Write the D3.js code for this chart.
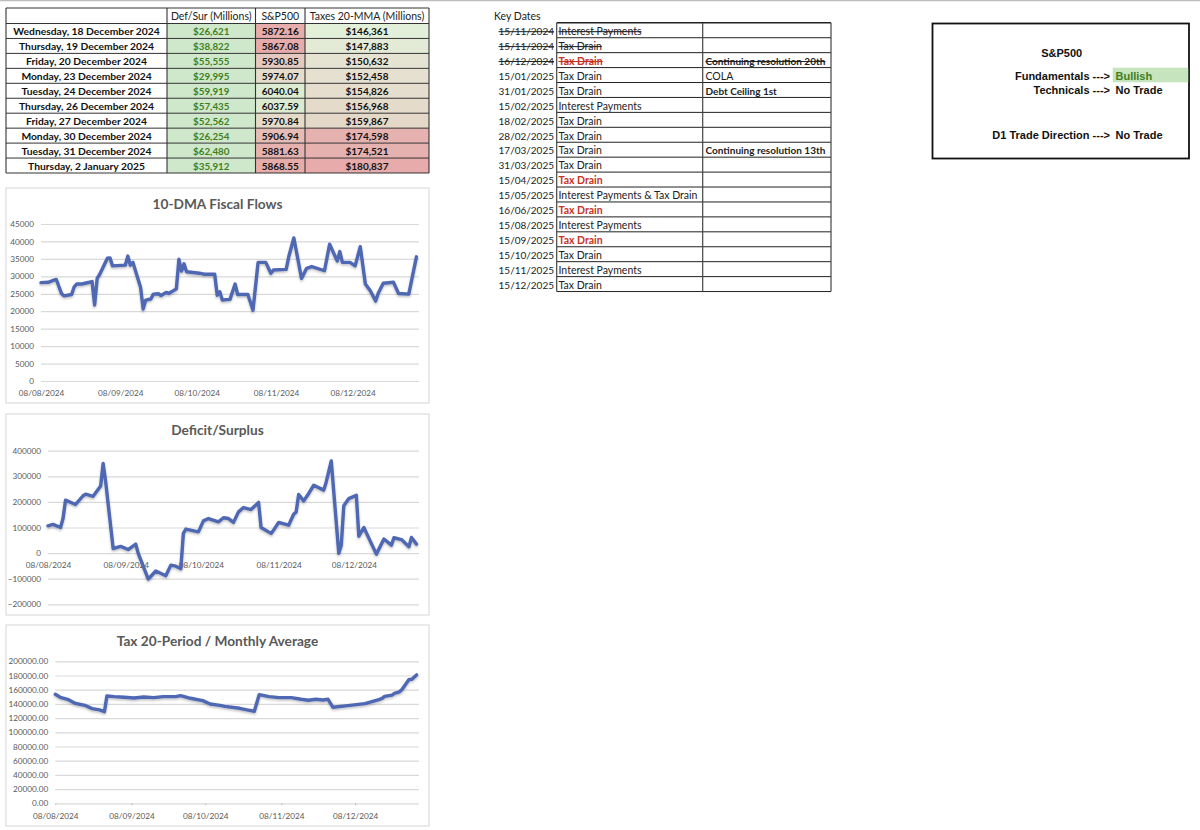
<!DOCTYPE html>
<html>
<head>
<meta charset="utf-8">
<script src="https://cdnjs.cloudflare.com/ajax/libs/d3/7.8.5/d3.min.js"></script>
<style>
html, body { margin: 0; padding: 0; background: #fff; }
svg { display: block; }
text { font-family: Lato, sans-serif; fill: #111; }
.axis text { fill: #595959; font-size: 8.2px; font-family: Lato, sans-serif; }
.axis .domain { display: none; }
.grid line { stroke: #d9d9d9; stroke-width: 1.2; }
.title { font-size: 13.7px; font-weight: 700; fill: #595959; text-anchor: middle; }
.side text { font-family: "Liberation Sans", sans-serif; font-weight: 700; font-size: 11px; }
</style>
</head>
<body>
<svg id="chart" width="1200" height="830"></svg>
<script>
// top left table
var rowDates = ["Wednesday, 18 December 2024","Thursday, 19 December 2024","Friday, 20 December 2024","Monday, 23 December 2024","Tuesday, 24 December 2024","Thursday, 26 December 2024","Friday, 27 December 2024","Monday, 30 December 2024","Tuesday, 31 December 2024","Thursday, 2 January 2025"]
var defSur = [26621,38822,55555,29995,59919,57435,52562,26254,62480,35912]
var spx = [5872.16,5867.08,5930.85,5974.07,6040.04,6037.59,5970.84,5906.94,5881.63,5868.55]
var taxes = [146361,147883,150632,152458,154826,156968,159867,174598,174521,180837]
var tableHeaders = ["", "Def/Sur (Millions)", "S&P500", "Taxes 20-MMA (Millions)"]

// key dates table
var keyDates = ["15/11/2024","15/11/2024","16/12/2024","15/01/2025","31/01/2025","15/02/2025","18/02/2025","28/02/2025","17/03/2025","31/03/2025","15/04/2025","15/05/2025","16/06/2025","15/08/2025","15/09/2025","15/10/2025","15/11/2025","15/12/2025"]
var keyEvents = ["Interest Payments","Tax Drain","Tax Drain","Tax Drain","Tax Drain","Interest Payments","Tax Drain","Tax Drain","Tax Drain","Tax Drain","Tax Drain","Interest Payments & Tax Drain","Tax Drain","Interest Payments","Tax Drain","Tax Drain","Interest Payments","Tax Drain"]
var keyNotes = ["","","Continuing resolution 20th","COLA","Debt Ceiling 1st","","","","Continuing resolution 13th","","","","","","","","",""]
var keyStruck = [0,1,2]
var keyRed = [2,10,12,14]
var keyBoldNotes = [2,4,8]

// line charts
var flowDates = ["2024-08-08","2024-08-11","2024-08-13","2024-08-14","2024-08-16","2024-08-17","2024-08-20","2024-08-21","2024-08-22","2024-08-24","2024-08-27","2024-08-28","2024-08-29","2024-08-30","2024-08-31","2024-09-03","2024-09-04","2024-09-05","2024-09-10","2024-09-11","2024-09-12","2024-09-13","2024-09-16","2024-09-17","2024-09-18","2024-09-20","2024-09-21","2024-09-23","2024-09-24","2024-09-26","2024-09-27","2024-09-30","2024-10-01","2024-10-02","2024-10-03","2024-10-04","2024-10-09","2024-10-11","2024-10-15","2024-10-16","2024-10-17","2024-10-18","2024-10-21","2024-10-23","2024-10-24","2024-10-28","2024-10-30","2024-11-01","2024-11-04","2024-11-06","2024-11-07","2024-11-12","2024-11-13","2024-11-15","2024-11-18","2024-11-20","2024-11-22","2024-11-27","2024-11-29","2024-12-02","2024-12-03","2024-12-04","2024-12-07","2024-12-09","2024-12-11","2024-12-13","2024-12-15","2024-12-17","2024-12-18","2024-12-20","2024-12-24","2024-12-26","2024-12-30","2025-01-02"]
var flowValues = [28200,28300,28900,29100,25100,24400,24800,27000,27800,27800,28300,28500,21800,29400,30600,35200,35300,33000,33200,35800,33200,34000,26800,20600,23200,23500,24900,25000,24500,25400,25100,26400,34900,31500,33600,31300,30900,30600,30600,24600,25600,23200,23400,27800,24800,24800,20300,34000,34000,30900,31800,32000,35600,41000,29400,32300,32800,31600,39200,34400,37100,34000,34000,33000,38500,27800,25800,22900,25100,28000,28300,25100,24900,35600]

var deficitDates = ["2024-08-08","2024-08-10","2024-08-13","2024-08-14","2024-08-15","2024-08-19","2024-08-22","2024-08-23","2024-08-26","2024-08-29","2024-08-30","2024-08-31","2024-09-03","2024-09-06","2024-09-09","2024-09-12","2024-09-13","2024-09-17","2024-09-20","2024-09-24","2024-09-26","2024-09-28","2024-09-30","2024-10-01","2024-10-02","2024-10-07","2024-10-09","2024-10-11","2024-10-15","2024-10-17","2024-10-19","2024-10-21","2024-10-23","2024-10-25","2024-10-28","2024-10-31","2024-11-01","2024-11-05","2024-11-06","2024-11-08","2024-11-12","2024-11-14","2024-11-15","2024-11-16","2024-11-18","2024-11-20","2024-11-22","2024-11-26","2024-11-27","2024-11-29","2024-12-02","2024-12-03","2024-12-04","2024-12-06","2024-12-09","2024-12-10","2024-12-12","2024-12-17","2024-12-20","2024-12-23","2024-12-24","2024-12-27","2024-12-30","2024-12-31","2025-01-02"]
var deficitValues = [106700,112000,100000,135000,207000,190000,224000,230000,222000,262000,350000,279000,18000,26000,14000,35000,-1000,-101500,-70000,-88500,-47000,-51000,-61000,77000,94000,83000,126000,135000,122000,138000,135000,120000,161000,178000,170000,198000,100000,77000,90000,120000,109000,152000,161000,229000,204000,233000,265000,246000,278000,360000,-1000,31000,185000,213000,226000,66000,100000,-4000,55000,31000,60000,53000,25000,61000,35000]

var taxDates = ["2024-08-08","2024-08-10","2024-08-13","2024-08-16","2024-08-20","2024-08-23","2024-08-26","2024-08-28","2024-08-29","2024-09-01","2024-09-05","2024-09-09","2024-09-13","2024-09-17","2024-09-21","2024-09-26","2024-09-28","2024-10-02","2024-10-07","2024-10-10","2024-10-14","2024-10-16","2024-10-22","2024-10-25","2024-10-28","2024-10-30","2024-11-03","2024-11-07","2024-11-12","2024-11-16","2024-11-19","2024-11-22","2024-11-25","2024-11-27","2024-11-29","2024-12-05","2024-12-12","2024-12-18","2024-12-19","2024-12-20","2024-12-23","2024-12-24","2024-12-26","2024-12-27","2024-12-30","2024-12-31","2025-01-02"]
var taxValues = [153500,149300,146500,140900,138000,133300,131500,129100,151200,150200,149300,148400,149800,148800,150200,150200,151700,147900,144600,139900,138000,136600,133800,131500,129600,153100,150200,148800,148800,146500,145100,146500,145500,146500,135200,137600,140400,146361,147883,150632,152458,154826,156968,159867,174598,174521,180837]

var monthTicks = ["2024-08-08","2024-09-08","2024-10-08","2024-11-08","2024-12-08"]
var flowTicks = [0,5000,10000,15000,20000,25000,30000,35000,40000,45000]
var deficitTicks = [-200000,-100000,0,100000,200000,300000,400000]
var taxTicks = [0,20000,40000,60000,80000,100000,120000,140000,160000,180000,200000]

var parseDay = d3.timeParse("%Y-%m-%d")
var formatDay = d3.timeFormat("%d/%m/%Y")
var money = d3.format("$,")
var svg = d3.select("#chart")

// grey strip along the very top of the screenshot
svg.append("line").attr("x1", 0).attr("x2", 1200).attr("y1", 0.5).attr("y2", 0.5)
  .attr("stroke", "#bdbdbd").attr("stroke-width", 1.5)

var defs = svg.append("defs")
var shadow = defs.append("filter").attr("id", "soft").attr("x", "-5%").attr("y", "-10%").attr("width", "110%").attr("height", "120%")
shadow.append("feDropShadow").attr("dx", 0).attr("dy", 1.5).attr("stdDeviation", 1).attr("flood-color", "#000").attr("flood-opacity", 0.25)

// ---- top left table ----
var colX = [6, 167, 255.5, 305, 429]
var headTop = 8, headBottom = 23.5, rowH = 14.95
var rowY = d3.scaleLinear().domain([0, 10]).range([headBottom, headBottom + rowH * 10])

var spxColor = d3.scaleLinear().domain([5867, 5974, 6040]).range(["#e6abaa", "#e5dccb", "#dcebd2"])
var taxColor = d3.scaleLinear().domain([146361, 152000, 160000, 172000, 180837]).range(["#e2efd9", "#e6e0d0", "#e4d8c8", "#e6b5b2", "#e6abaa"])

var rows = d3.range(rowDates.length)
var t1 = svg.append("g")

t1.selectAll(".def").data(rows).enter().append("rect")
  .attr("x", colX[1]).attr("width", colX[2] - colX[1])
  .attr("y", i => rowY(i)).attr("height", rowH).attr("fill", "#cfe8cc")
t1.selectAll(".spx").data(rows).enter().append("rect")
  .attr("x", colX[2]).attr("width", colX[3] - colX[2])
  .attr("y", i => rowY(i)).attr("height", rowH).attr("fill", i => spxColor(spx[i]))
t1.selectAll(".tax").data(rows).enter().append("rect")
  .attr("x", colX[3]).attr("width", colX[4] - colX[3])
  .attr("y", i => rowY(i)).attr("height", rowH).attr("fill", i => taxColor(taxes[i]))

function cellText(g, x, y, str, opts) {
  opts = opts || {}
  return g.append("text").attr("x", x).attr("y", y).attr("text-anchor", opts.anchor || "middle")
    .style("font-size", (opts.size || 11) + "px")
    .style("font-weight", opts.bold ? 700 : 400)
    .style("fill", opts.color || "#111")
    .style("text-decoration", opts.strike ? "line-through" : "none")
    .text(str)
}

tableHeaders.forEach(function(h, i) {
  cellText(t1, (colX[i] + colX[i + 1]) / 2, headBottom - 3.5, h, {size: 10.5, color: "#222"})
})
rows.forEach(function(i) {
  var y = rowY(i) + 11.8
  cellText(t1, (colX[0] + colX[1]) / 2, y, rowDates[i], {bold: true, size: 10.3})
  cellText(t1, (colX[1] + colX[2]) / 2, y, money(defSur[i]), {bold: true, size: 9.8, color: "#3f7f20"})
  cellText(t1, (colX[2] + colX[3]) / 2, y, spx[i].toFixed(2), {bold: true, size: 10})
  cellText(t1, (colX[3] + colX[4]) / 2, y, money(taxes[i]), {bold: true, size: 10})
})

// table rules
d3.range(11).forEach(function(i) {
  t1.append("line").attr("x1", colX[0]).attr("x2", colX[4]).attr("y1", rowY(i)).attr("y2", rowY(i))
    .attr("stroke", "#333").attr("stroke-width", 1)
})
colX.forEach(function(x) {
  t1.append("line").attr("x1", x).attr("x2", x).attr("y1", headTop).attr("y2", rowY(10))
    .attr("stroke", "#333").attr("stroke-width", 1.1)
})
t1.append("line").attr("x1", colX[0]).attr("x2", colX[4]).attr("y1", headTop).attr("y2", headTop)
  .attr("stroke", "#333").attr("stroke-width", 1.1)

// ---- line charts ----
var panels = [
  {title: "10-DMA Fiscal Flows", dates: flowDates, values: flowValues, ticks: flowTicks, frame: [188, 403], titleY: 209,
   x0: 41, yTop: 224, yBottom: 381, labelGap: 6, tickLen: 0, fmt: d3.format("d")},
  {title: "Deficit/Surplus", dates: deficitDates, values: deficitValues, ticks: deficitTicks, frame: [414, 615], titleY: 435,
   x0: 48, yTop: 450.7, yBottom: 604.3, labelGap: 6, tickLen: 0, fmt: d3.format("d")},
  {title: "Tax 20-Period / Monthly Average", dates: taxDates, values: taxValues, ticks: taxTicks, frame: [625, 826], titleY: 646,
   x0: 55.3, yTop: 661.3, yBottom: 803.3, labelGap: 7, tickLen: 2, fmt: d => d.toFixed(2)}
]

panels.forEach(function(p) {
  var g = svg.append("g")
  g.append("rect").attr("x", 6).attr("y", p.frame[0]).attr("width", 423).attr("height", p.frame[1] - p.frame[0])
    .attr("fill", "#fff").attr("stroke", "#dcdcdc").attr("stroke-width", 1.2)
  g.append("text").attr("class", "title").attr("x", 217.5).attr("y", p.titleY).text(p.title)

  var x = d3.scaleTime().domain([parseDay("2024-08-08"), parseDay("2025-01-03")]).range([p.x0, 419])
  var y = d3.scaleLinear().domain(d3.extent(p.ticks)).range([p.yBottom, p.yTop])

  g.append("g").attr("class", "axis grid").attr("transform", "translate(" + p.x0 + ",0)")
    .call(d3.axisLeft(y).tickValues(p.ticks).tickFormat(p.fmt).tickSize(p.x0 - 419).tickPadding(7))

  g.append("g").attr("class", "axis").attr("transform", "translate(0," + y(0) + ")")
    .call(d3.axisBottom(x).tickValues(monthTicks.map(parseDay)).tickFormat(formatDay).tickSize(p.tickLen).tickPadding(p.labelGap - p.tickLen + 3))
    .selectAll(".tick line").attr("stroke", "#bfbfbf")

  var line = d3.line().x(d => x(parseDay(d[0]))).y(d => y(d[1])).curve(d3.curveLinear)
  g.append("path").datum(d3.zip(p.dates, p.values)).attr("d", line)
    .attr("fill", "none").attr("stroke", "#4f67b3").attr("stroke-width", 3.4)
    .attr("stroke-linejoin", "round").attr("stroke-linecap", "round").attr("filter", "url(#soft)")
})

// ---- key dates table ----
var keyCols = [556.7, 702.7, 831]
var keyTop = 22.8, keyRowH = 14.93
var keyY = d3.scaleLinear().domain([0, 18]).range([keyTop, keyTop + keyRowH * 18])
var t2 = svg.append("g")
cellText(t2, 494, 20, "Key Dates", {anchor: "start", size: 10.5, color: "#222"})

keyDates.forEach(function(d, i) {
  var struck = keyStruck.indexOf(i) >= 0
  var red = keyRed.indexOf(i) >= 0
  var y = keyY(i) + 12.2
  cellText(t2, 554, y, d, {anchor: "end", size: 10, color: "#222", strike: struck})
  cellText(t2, 558.5, y, keyEvents[i], {anchor: "start", size: 10.5, bold: red, color: red ? "#c8321e" : "#222", strike: struck})
  if (keyNotes[i]) {
    var bold = keyBoldNotes.indexOf(i) >= 0
    cellText(t2, 705.5, y, keyNotes[i], {anchor: "start", size: bold ? 10 : 10.5, bold: bold, color: "#222", strike: i == 2})
  }
})
d3.range(19).forEach(function(i) {
  t2.append("line").attr("x1", keyCols[0]).attr("x2", keyCols[2]).attr("y1", keyY(i)).attr("y2", keyY(i))
    .attr("stroke", "#222").attr("stroke-width", i == 0 ? 1.6 : 1)
})
keyCols.forEach(function(x) {
  t2.append("line").attr("x1", x).attr("x2", x).attr("y1", keyY(0)).attr("y2", keyY(18))
    .attr("stroke", "#444").attr("stroke-width", 1.2)
})

// ---- S&P500 box ----
var side = svg.append("g").attr("class", "side")
side.append("rect").attr("x", 932.5).attr("y", 23.5).attr("width", 256.5).attr("height", 135)
  .attr("fill", "#fff").attr("stroke", "#111").attr("stroke-width", 1.8)
side.append("rect").attr("x", 1112.7).attr("y", 67.7).attr("width", 75.5).attr("height", 14.6).attr("fill", "#c6e4bd")
cellText(side, 1061.7, 57, "S&P500", {size: 11, bold: true})

var sideLabels = ["Fundamentals --->", "Technicals --->", "D1 Trade Direction --->"]
var sideValues = ["Bullish", "No Trade", "No Trade"]
var sideRows = [79.5, 94, 138.5]
sideLabels.forEach(function(l, i) {
  cellText(side, 1110, sideRows[i], l, {anchor: "end", bold: true})
  cellText(side, 1115.5, sideRows[i], sideValues[i], {anchor: "start", bold: true, color: i == 0 ? "#3f7f20" : "#111"})
})
</script>
</body>
</html>
